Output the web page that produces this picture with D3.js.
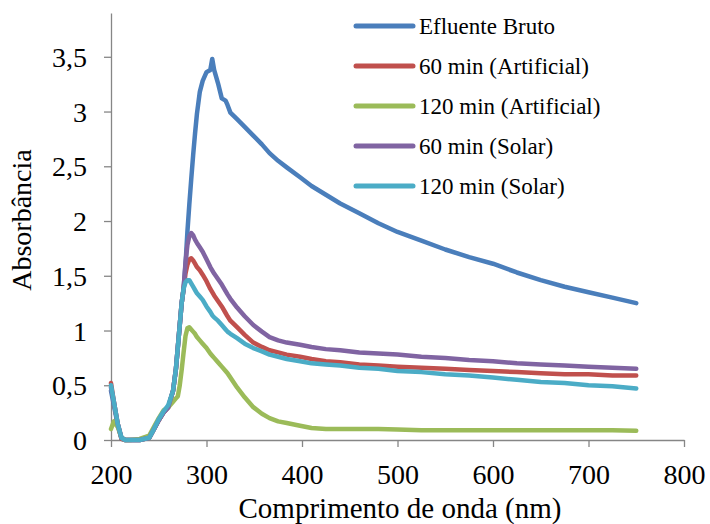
<!DOCTYPE html>
<html>
<head>
<meta charset="utf-8">
<script src="https://cdn.jsdelivr.net/npm/d3@7"></script>
<style>
  html, body { margin: 0; padding: 0; background: #fff; }
  svg { display: block; }
</style>
</head>
<body>
<svg id="chart" width="710" height="524"></svg>
<script>
// ---- data ----
const wavelength = [200,203,207,211,215,220,230,240,245,250,255,260,265,268,270,272,274,276,278,280,282,284,286,288,290,293,296,300,304,306,308,312,316,320,322,325,332,340,349,358,366,375,384,398,410,425,440,460,480,500,525,550,575,600,625,650,675,700,725,750];

const efluenteBruto = [0.45,0.32,0.14,0.01,0,0,0,0.02,0.1,0.18,0.25,0.3,0.45,0.65,0.85,1.05,1.25,1.38,1.6,1.9,2.15,2.38,2.6,2.8,2.98,3.18,3.28,3.36,3.38,3.48,3.38,3.26,3.12,3.1,3.06,2.99,2.93,2.86,2.78,2.7,2.62,2.55,2.49,2.40,2.32,2.24,2.16,2.07,1.98,1.90,1.82,1.74,1.67,1.61,1.53,1.46,1.40,1.35,1.30,1.25];

const min60Artificial = [0.52,0.35,0.15,0.01,0,0,0,0.02,0.1,0.18,0.25,0.3,0.45,0.65,0.85,1.05,1.25,1.38,1.52,1.6,1.65,1.66,1.64,1.61,1.58,1.55,1.51,1.45,1.38,1.35,1.32,1.27,1.22,1.16,1.13,1.09,1.03,0.96,0.89,0.85,0.82,0.80,0.78,0.76,0.74,0.72,0.71,0.69,0.68,0.67,0.66,0.65,0.64,0.63,0.62,0.61,0.60,0.60,0.59,0.59];

const min120Artificial = [0.1,0.17,0.12,0.02,0,0,0.01,0.04,0.12,0.2,0.27,0.3,0.35,0.38,0.4,0.5,0.64,0.8,0.95,1.02,1.03,1.01,0.99,0.97,0.94,0.91,0.88,0.84,0.79,0.77,0.75,0.71,0.67,0.63,0.61,0.57,0.48,0.39,0.30,0.24,0.20,0.17,0.155,0.13,0.11,0.10,0.10,0.10,0.10,0.095,0.09,0.09,0.09,0.09,0.09,0.09,0.09,0.09,0.09,0.085];

const min60Solar = [0.48,0.35,0.15,0.02,0,0,0,0.02,0.1,0.18,0.25,0.3,0.45,0.65,0.85,1.05,1.25,1.38,1.62,1.78,1.86,1.89,1.87,1.83,1.8,1.76,1.72,1.65,1.58,1.55,1.52,1.47,1.42,1.36,1.33,1.29,1.21,1.13,1.05,0.99,0.94,0.91,0.89,0.87,0.85,0.83,0.82,0.80,0.79,0.78,0.76,0.75,0.73,0.72,0.70,0.69,0.68,0.67,0.66,0.65];

const min120Solar = [0.5,0.35,0.15,0.02,0,0,0,0.02,0.1,0.19,0.26,0.32,0.45,0.65,0.85,1.05,1.25,1.38,1.44,1.46,1.46,1.43,1.4,1.37,1.34,1.31,1.28,1.22,1.17,1.14,1.12,1.09,1.05,1.01,0.99,0.97,0.93,0.88,0.84,0.81,0.78,0.76,0.74,0.72,0.70,0.69,0.68,0.66,0.65,0.63,0.62,0.60,0.59,0.57,0.55,0.53,0.52,0.50,0.49,0.47];

const seriesNames = ["Efluente Bruto","60 min (Artificial)","120 min (Artificial)","60 min (Solar)","120 min (Solar)"];
const seriesColors = ["#4A7EBB","#C0504D","#9BBB59","#8064A2","#4BACC6"];
const seriesValues = [efluenteBruto, min60Artificial, min120Artificial, min60Solar, min120Solar];

const xTicks = [200,300,400,500,600,700,800];
const yTicks = [0,0.5,1,1.5,2,2.5,3,3.5];

// ---- chart ----
const FONT = "'Liberation Serif', 'Times New Roman', Times, serif";
const svg = d3.select("#chart");
const x = d3.scaleLinear().domain([200, 800]).range([111, 684]);
const y = d3.scaleLinear().domain([0, 3.9]).range([440, 13]);
const axisColor = "#868686";
const fmt = v => String(v).replace(".", ",");

const gx = svg.append("g").attr("transform", "translate(0,440)")
  .call(d3.axisBottom(x).tickValues(xTicks).tickSize(7).tickSizeOuter(0).tickPadding(17));
const gy = svg.append("g").attr("transform", "translate(111,0)")
  .call(d3.axisLeft(y).tickValues(yTicks).tickSize(7).tickSizeOuter(0).tickPadding(17).tickFormat(fmt));

[gx, gy].forEach(g => {
  g.attr("font-family", null).attr("font-size", null);
  g.select(".domain").attr("stroke", axisColor).attr("stroke-width", 1.3);
  g.selectAll(".tick line").attr("stroke", axisColor).attr("stroke-width", 1.3);
  g.selectAll(".tick text").style("font-family", FONT).style("font-size", "28px").attr("fill", "#000");
});
gy.selectAll(".tick text").attr("dy", "0.34em");

// series
const line = d3.line().x((d, i) => x(wavelength[i])).y(d => y(d));
seriesValues.forEach((vals, k) => {
  svg.append("path")
    .datum(vals)
    .attr("fill", "none")
    .attr("stroke", seriesColors[k])
    .attr("stroke-width", 4.5)
    .attr("stroke-linejoin", "round")
    .attr("stroke-linecap", "round")
    .attr("d", line);
});

// legend
const lg = svg.append("g");
seriesNames.forEach((name, k) => {
  const ly = 26 + k * 40;
  lg.append("line").attr("x1", 356).attr("x2", 413).attr("y1", ly).attr("y2", ly)
    .attr("stroke", seriesColors[k]).attr("stroke-width", 5).attr("stroke-linecap", "round");
  lg.append("text").attr("x", 419).attr("y", ly + 8)
    .style("font-family", FONT).style("font-size", "23px").attr("fill", "#000").text(name);
});

// axis titles
svg.append("text").attr("x", 400).attr("y", 518).attr("text-anchor", "middle")
  .style("font-family", FONT).style("font-size", "29px").attr("fill", "#000")
  .text("Comprimento de onda (nm)");
svg.append("text").attr("transform", "translate(31,220) rotate(-90)").attr("text-anchor", "middle")
  .style("font-family", FONT).style("font-size", "28px").attr("fill", "#000")
  .text("Absorbância");
</script>
</body>
</html>
